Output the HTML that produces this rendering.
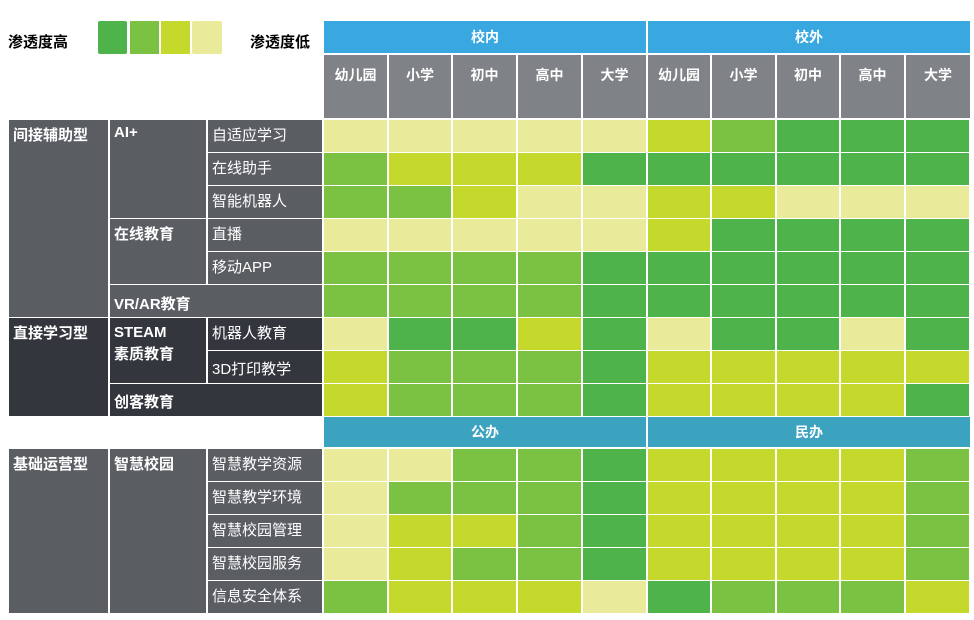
<!DOCTYPE html>
<html><head><meta charset="utf-8">
<style>
body{margin:0;width:974px;height:620px;background:#fff;position:relative;overflow:hidden;font-family:"Liberation Sans","Noto Sans CJK SC",sans-serif;}
.a{position:absolute;box-sizing:border-box;}
.lab{color:#fff;font-size:15px;padding:4px 0 0 4px;}
.b{font-weight:bold;}
.hd{color:#fff;font-weight:bold;font-size:14px;text-align:center;}
</style></head><body>
<div class="a b" style="left:8px;top:31px;font-size:15px;">渗透度高</div>
<div class="a" style="left:98px;top:21px;width:29px;height:33px;background:#4db34a;border-radius:2px"></div>
<div class="a" style="left:130px;top:21px;width:29px;height:33px;background:#7bc142"></div>
<div class="a" style="left:161px;top:21px;width:29px;height:33px;background:#c5d92d"></div>
<div class="a" style="left:192px;top:21px;width:30px;height:33px;background:#e9eb9a;border-radius:2px"></div>
<div class="a b" style="left:250px;top:31px;font-size:15px;">渗透度低</div>

<div class="a hd" style="left:324px;top:21px;width:322px;height:32px;background:#3aa8e0;line-height:32px">校内</div>
<div class="a hd" style="left:648px;top:21px;width:322px;height:32px;background:#3aa8e0;line-height:32px">校外</div>
<div class="a hd" style="left:324px;top:417px;width:322px;height:30px;background:#3ba3bf;line-height:30px">公办</div>
<div class="a hd" style="left:648px;top:417px;width:322px;height:30px;background:#3ba3bf;line-height:30px">民办</div>

<div id="hdr"></div>

<div class="a lab b" style="left:9px;top:120px;width:99px;height:197px;background:#5a5e63">间接辅助型</div>
<div class="a lab b" style="left:110px;top:120px;width:96px;height:98px;background:#5a5e63">AI+</div>
<div class="a lab" style="left:208px;top:120px;width:114px;height:32px;background:#5a5e63">自适应学习</div>
<div class="a lab" style="left:208px;top:153px;width:114px;height:32px;background:#5a5e63">在线助手</div>
<div class="a lab" style="left:208px;top:186px;width:114px;height:32px;background:#5a5e63">智能机器人</div>
<div class="a lab b" style="left:110px;top:219px;width:96px;height:65px;background:#5a5e63">在线教育</div>
<div class="a lab" style="left:208px;top:219px;width:114px;height:32px;background:#5a5e63">直播</div>
<div class="a lab" style="left:208px;top:252px;width:114px;height:32px;background:#5a5e63">移动APP</div>
<div class="a lab b" style="left:110px;top:285px;width:212px;height:32px;background:#5a5e63;padding-top:8px">VR/AR教育</div>

<div class="a lab b" style="left:9px;top:318px;width:99px;height:98px;background:#34363d">直接学习型</div>
<div class="a lab b" style="left:110px;top:318px;width:96px;height:65px;background:#34363d;line-height:22px">STEAM<br>素质教育</div>
<div class="a lab" style="left:208px;top:318px;width:114px;height:32px;background:#34363d">机器人教育</div>
<div class="a lab" style="left:208px;top:351px;width:114px;height:32px;background:#34363d;padding-top:7px">3D打印教学</div>
<div class="a lab b" style="left:110px;top:384px;width:212px;height:32px;background:#34363d;padding-top:7px">创客教育</div>

<div class="a lab b" style="left:9px;top:449px;width:99px;height:164px;background:#5a5e63">基础运营型</div>
<div class="a lab b" style="left:110px;top:449px;width:96px;height:164px;background:#5a5e63">智慧校园</div>
<div class="a lab" style="left:208px;top:449px;width:114px;height:32px;background:#5a5e63">智慧教学资源</div>
<div class="a lab" style="left:208px;top:482px;width:114px;height:32px;background:#5a5e63">智慧教学环境</div>
<div class="a lab" style="left:208px;top:515px;width:114px;height:32px;background:#5a5e63">智慧校园管理</div>
<div class="a lab" style="left:208px;top:548px;width:114px;height:32px;background:#5a5e63">智慧校园服务</div>
<div class="a lab" style="left:208px;top:581px;width:114px;height:32px;background:#5a5e63">信息安全体系</div>

<div class="a hd" style="left:324px;top:55px;width:63px;height:63px;background:#7f8388;padding-top:10px">幼儿园</div>
<div class="a hd" style="left:389px;top:55px;width:62px;height:63px;background:#7f8388;padding-top:10px">小学</div>
<div class="a hd" style="left:453px;top:55px;width:63px;height:63px;background:#7f8388;padding-top:10px">初中</div>
<div class="a hd" style="left:518px;top:55px;width:63px;height:63px;background:#7f8388;padding-top:10px">高中</div>
<div class="a hd" style="left:583px;top:55px;width:63px;height:63px;background:#7f8388;padding-top:10px">大学</div>
<div class="a hd" style="left:648px;top:55px;width:62px;height:63px;background:#7f8388;padding-top:10px">幼儿园</div>
<div class="a hd" style="left:712px;top:55px;width:63px;height:63px;background:#7f8388;padding-top:10px">小学</div>
<div class="a hd" style="left:777px;top:55px;width:62px;height:63px;background:#7f8388;padding-top:10px">初中</div>
<div class="a hd" style="left:841px;top:55px;width:63px;height:63px;background:#7f8388;padding-top:10px">高中</div>
<div class="a hd" style="left:906px;top:55px;width:64px;height:63px;background:#7f8388;padding-top:10px">大学</div>

<div id="cells"></div>
<script>
var C=["","#4db34a","#7bc142","#c5d92d","#e9eb9a"];
var xs=[324,389,453,518,583,648,712,777,841,906,971];
var d=[
"4444432111","2333111111","2234433444","4444431111","2222111111","2222111111",
"4113141141","3222133333","3222133331"];
var d2=["4422133332","4222133332","4332133332","4322133332","2333412223"];
var h="";
function row(s,y){for(var i=0;i<10;i++){h+='<div class="a" style="left:'+xs[i]+'px;top:'+y+'px;width:'+(xs[i+1]-xs[i]-2)+'px;height:32px;background:'+C[+s[i]]+'"></div>';}}
d.forEach(function(s,r){row(s,120+33*r);});
d2.forEach(function(s,r){row(s,449+33*r);});
document.getElementById("cells").innerHTML=h;
</script>
</body></html>
